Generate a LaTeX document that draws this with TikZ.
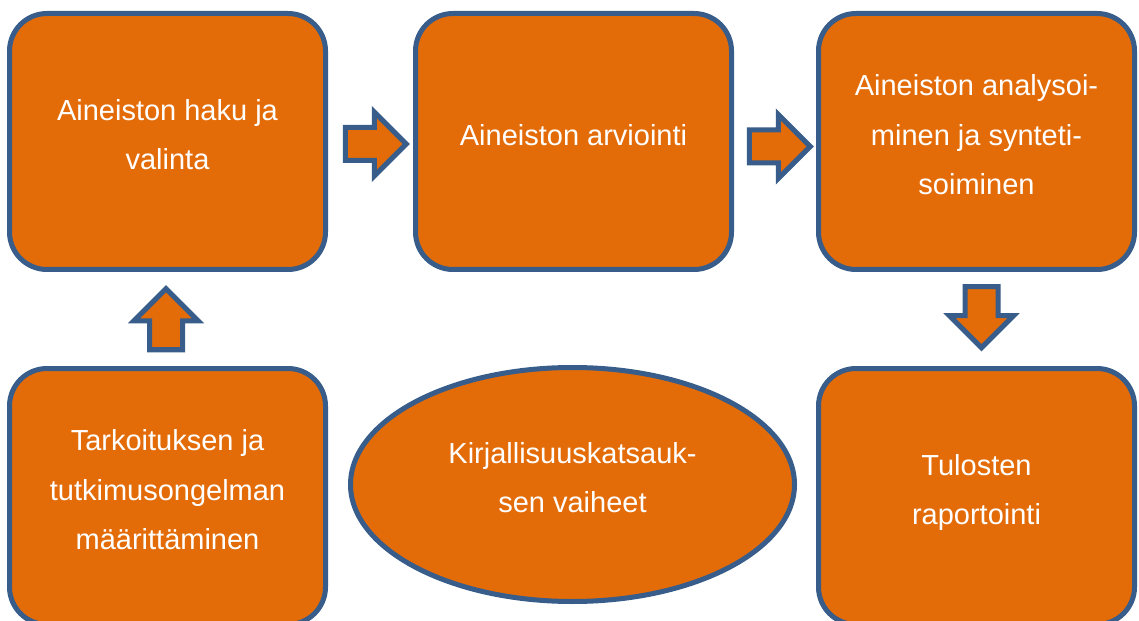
\documentclass[tikz,border=0pt]{standalone}
\usepackage{fontspec}
\setmainfont{Liberation Sans}
\usetikzlibrary{shapes.geometric, shapes.arrows}
\definecolor{boxfill}{HTML}{E36C09}
\definecolor{boxline}{HTML}{385D8A}
\tikzstyle{phase} = [rectangle,rounded corners=0.75cm,draw=boxline,fill=boxfill,line width=0.1cm,minimum width=6.32cm,minimum height=5.12cm,text=white,align=center,text depth=0.28cm,font=\fontsize{16.5}{28}\selectfont]
\tikzstyle{title} = [ellipse,draw=boxline,fill=boxfill,line width=0.1cm,minimum width=8.88cm,minimum height=4.68cm,inner sep=0pt,text=white,align=center,text depth=0.28cm,font=\fontsize{16.5}{28}\selectfont]
\tikzstyle{blockarrow} = [single arrow,draw=boxline,fill=boxfill,line width=0.1cm,inner sep=0.28cm,minimum height=1.22cm,single arrow head extend=0.31cm]

\begin{document}
\begin{tikzpicture}
\clip (0,0) rectangle (22.78,-12.42);
\useasboundingbox (0,0) rectangle (22.78,-12.42);
\node [phase] at (3.35,-2.83)(p1){Aineiston haku ja\\valinta};
\node [phase] at (11.47,-2.83)(p2){Aineiston arviointi};
\node [phase] at (19.53,-2.83)(p3){Aineiston analysoi-\\minen ja synteti-\\soiminen};
\node [phase] at (3.35,-9.93)(p0){Tarkoituksen ja\\tutkimusongelman\\määrittäminen};
\node [phase] at (19.53,-9.93)(p4){Tulosten\\raportointi};
\node [title] at (11.45,-9.69)(t){Kirjallisuuskatsauk-\\sen vaiheet};

% block arrows between the phases
\node [blockarrow] at (7.35,-2.88)(a1){};
\node [blockarrow] at (15.43,-2.93)(a2){};
\node [blockarrow,shape border rotate=270] at (19.63,-6.18)(a3){};
\node [blockarrow,shape border rotate=90] at (3.32,-6.55)(a0){};

\end{tikzpicture}
\end{document}
